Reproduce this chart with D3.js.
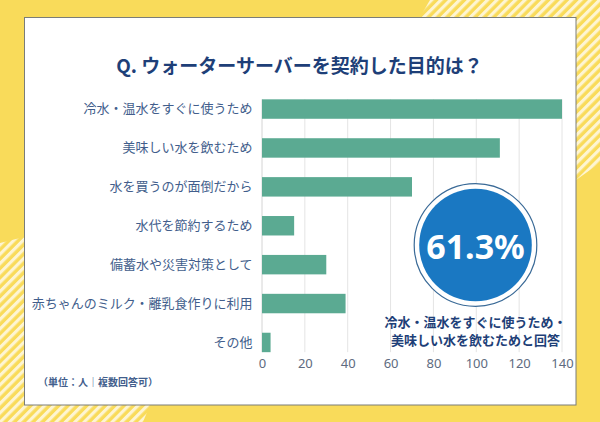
<!DOCTYPE html>
<html><head><meta charset="utf-8">
<script src="https://cdn.jsdelivr.net/npm/d3@7"></script>
<style>
html,body{margin:0;padding:0;background:#F9DB5A;}
svg{display:block;}
</style></head>
<body>
<svg id="chart" width="600" height="422"></svg>
<script>
const title = "Q. ウォーターサーバーを契約した目的は？";
const categories = [
  "冷水・温水をすぐに使うため",
  "美味しい水を飲むため",
  "水を買うのが面倒だから",
  "水代を節約するため",
  "備蓄水や災害対策として",
  "赤ちゃんのミルク・離乳食作りに利用",
  "その他"
];
const values = [140, 111, 70, 15, 30, 39, 4];
const xTicks = [0, 20, 40, 60, 80, 100, 120, 140];
const highlightValue = "61.3%";
const highlightLines = ["冷水・温水をすぐに使うため・", "美味しい水を飲むためと回答"];
const footnote = "（単位：人｜複数回答可）";

(function () {
const svg = d3.select("#chart");
const W = 600, H = 422;
const jp = "'Noto Sans CJK JP','Noto Sans',sans-serif";

// background
svg.append("rect").attr("width", W).attr("height", H).attr("fill", "#F9DB5A");
const defs = svg.append("defs");
const pat = defs.append("pattern").attr("id", "stripes")
  .attr("patternUnits", "userSpaceOnUse").attr("width", 6.6).attr("height", 6.6)
  .attr("patternTransform", "rotate(45)");
pat.append("rect").attr("width", 6.6).attr("height", 6.6).attr("fill", "#F9DB5A");
pat.append("rect").attr("width", 3.2).attr("height", 6.6).attr("fill", "#FEF5D2");

svg.append("path").attr("fill", "url(#stripes)")
  .attr("d", "M430,0 L600,0 L600,163 L576,180 L540,180 L420,17 Z");
svg.append("path").attr("fill", "url(#stripes)")
  .attr("d", "M0,243 L24,237 L60,237 L150,405 L143,422 L0,422 Z");

// card
svg.append("rect").attr("x", 24.5).attr("y", 17.5).attr("width", 551.5).attr("height", 387.5)
  .attr("fill", "#ffffff").attr("stroke", "#7a7d78").attr("stroke-width", 1);

// title
svg.append("text").attr("x", 299.5).attr("y", 64).attr("text-anchor", "middle")
  .attr("dominant-baseline", "central")
  .attr("font-family", jp).attr("font-weight", "bold").attr("font-size", 19)
  .attr("fill", "#1E3F78").text(title);

// scales
const x = d3.scaleLinear().domain([0, 140]).range([261.5, 561.5]);
const y = d3.scaleBand().domain(categories).range([89.6, 361.9])
  .paddingInner(0.5).paddingOuter(0.25);

const plotTop = y(categories[0]);
const plotBottom = y(categories[categories.length - 1]) + y.bandwidth();

// gridlines
svg.append("g").selectAll("line").data(xTicks).join("line")
  .attr("x1", d => x(d) + 0.5).attr("x2", d => x(d) + 0.5)
  .attr("y1", plotTop).attr("y2", plotBottom)
  .attr("stroke", d => d === 0 ? "#d4d4d4" : "#e4e4e4").attr("stroke-width", 1);

// bars
svg.append("g").selectAll("rect").data(values).join("rect")
  .attr("x", x(0) + 0.5)
  .attr("y", (d, i) => y(categories[i]))
  .attr("width", d => x(d) - x(0))
  .attr("height", y.bandwidth())
  .attr("fill", "#5BAA92");

// y axis labels
const yAxis = d3.axisLeft(y).tickSize(0).tickPadding(9);
const gy = svg.append("g").attr("transform", `translate(${x(0)},0)`).call(yAxis);
gy.select(".domain").remove();
gy.selectAll("text").attr("font-family", jp).attr("font-size", 13)
  .attr("fill", "#425E8C");

// x axis
const xAxis = d3.axisBottom(x).tickValues(xTicks).tickSize(0).tickPadding(0);
const gx = svg.append("g").attr("transform", `translate(0.5,${plotBottom + 7})`).call(xAxis);
gx.select(".domain").remove();
gx.selectAll("text").attr("font-family", "'Noto Sans',sans-serif").attr("font-size", 13)
  .attr("fill", "#5E6B80");

// highlight circle
const cx = 475.5, cy = 245;
svg.append("circle").attr("cx", cx).attr("cy", cy).attr("r", 61.3)
  .attr("fill", "#ffffff").attr("stroke", "#3A6A97").attr("stroke-width", 1.2);
svg.append("circle").attr("cx", cx).attr("cy", cy).attr("r", 56.3).attr("fill", "#1A78C2");
svg.append("text").attr("x", cx).attr("y", cy + 1).attr("text-anchor", "middle")
  .attr("dominant-baseline", "central")
  .attr("font-family", "'Noto Sans','Open Sans',sans-serif").attr("font-weight", "bold")
  .attr("font-size", 34).attr("fill", "#ffffff").text(highlightValue);

svg.append("g").selectAll("text").data(highlightLines).join("text")
  .attr("x", cx).attr("y", (d, i) => 321 + i * 18.5)
  .attr("text-anchor", "middle").attr("dominant-baseline", "central")
  .attr("font-family", jp).attr("font-weight", "bold").attr("font-size", 13)
  .attr("fill", "#1E3F78").text(d => d);

// footnote
svg.append("text").attr("x", 38).attr("y", 381).attr("dominant-baseline", "central")
  .attr("font-family", jp).attr("font-weight", "bold").attr("font-size", 10)
  .attr("fill", "#425E8C").text(footnote);
})();
</script>
</body></html>
